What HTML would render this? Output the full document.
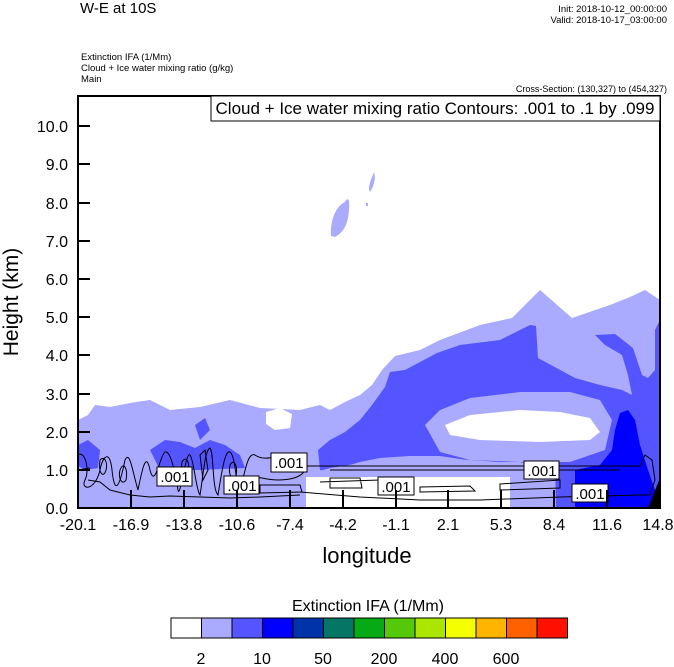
<!DOCTYPE html>
<html><head><meta charset="utf-8"><style>
html,body{margin:0;padding:0;background:#fff;}
svg{display:block;font-family:"Liberation Sans",Arial,sans-serif;}
</style></head><body>
<svg width="674" height="667" viewBox="0 0 674 667" xmlns="http://www.w3.org/2000/svg">
<rect width="674" height="667" fill="#fff"/>
<text x="80" y="13" font-size="15">W-E at 10S</text>
<text x="667" y="12" font-size="9.5" text-anchor="end">Init: 2018-10-12_00:00:00</text>
<text x="667" y="23" font-size="9.5" text-anchor="end">Valid: 2018-10-17_03:00:00</text>
<text x="81" y="60" font-size="9.5">Extinction IFA   (1/Mm)</text>
<text x="81" y="71" font-size="9.5">Cloud + Ice water mixing ratio   (g/kg)</text>
<text x="81" y="82" font-size="9.5">Main</text>
<text x="667" y="92" font-size="9" text-anchor="end">Cross-Section: (130,327) to (454,327)</text>

<g>
<!-- light region -->
<polygon fill="#aaaaff" points="78,420 88,415 95,405 110,407 130,403 150,400 170,410 200,407 230,400 260,408 300,410 320,405 330,410 345,402 360,395 372,385 382,370 395,356 420,350 440,340 480,325 512,318 540,290 572,318 610,305 630,297 645,290 660,300 660,508 78,508"/>
<polygon fill="#fff" points="266,412 280,408 292,414 290,428 275,430 266,424"/>
<!-- medium -->
<polygon fill="#5555ff" points="385,387 390,372 405,370 437,353 460,345 500,340 530,325 536,326 538,358 575,378 600,385 622,390 632,395 628,375 622,355 605,345 595,335 615,334 633,348 642,375 648,378 655,370 655,330 660,320 660,508 560,508 555,470 520,462 480,462 440,456 410,456 380,458 360,462 340,468 330,472 320,470 318,450 330,440 345,432 360,420 372,405"/>
<!-- light band around white pocket -->
<polygon fill="#aaaaff" points="425,425 440,410 470,398 520,392 570,392 600,400 612,420 605,450 570,462 520,462 470,460 440,452"/>
<polygon fill="#fff" points="445,425 470,415 520,410 560,412 590,418 600,432 590,440 540,442 480,440 450,435"/>
<!-- light below medium -->
<polygon fill="#aaaaff" points="306,475 330,468 380,460 440,458 500,462 510,470 510,478 306,478"/>
<!-- bottom white -->
<polygon fill="#fff" points="306,477 510,477 510,508 306,508"/>
<!-- medium at bottom right -->
<polygon fill="#5555ff" points="555,462 580,465 580,508 556,508"/>
<!-- blue -->
<polygon fill="#0000ff" points="575,470 600,465 612,450 615,430 620,413 628,410 635,420 640,445 648,470 655,490 656,508 575,508"/>
<polygon fill="#000" points="648,508 660,478 660,508"/>
<!-- left medium blobs -->
<polygon fill="#5555ff" points="78,445 88,440 100,450 98,468 85,470 78,466"/>
<polygon fill="#5555ff" points="150,450 165,440 180,442 195,448 210,440 225,445 240,455 245,468 200,470 160,470"/>
<polygon fill="#5555ff" points="195,425 205,418 210,430 200,440"/>
<!-- upper blobs -->
<path fill="#aaaaff" d="M331,236 C330,220 336,206 345,202 C348,196 350,200 349,210 C348,224 344,232 335,237 Z"/>
<path fill="#aaaaff" d="M369,190 C369,182 372,178 374,172 C376,178 374,186 370,192 Z"/>
<rect x="366" y="203" width="2" height="3" fill="#aaaaff"/>
</g>

<!-- contours -->
<g fill="none" stroke="#000" stroke-width="1">
<path d="M300,466 L640,466 L645,455 L652,460 L655,480 L650,495 L640,495 L560,497 L480,500 L420,500 L360,497 L300,492"/>
<path d="M330,470 L620,470"/>
<path d="M320,482 L380,480 M420,487 L470,486 L475,491 L420,492 Z M500,484 L560,480 L560,488 L500,490 Z M330,478 L360,478 L362,488 L330,488 Z M385,477 L410,477 L412,486 L385,487 Z"/>
<path d="M78,455 C85,450 90,470 85,480 C80,490 95,492 100,470 C103,455 110,450 112,470 C114,490 118,495 125,460 C130,450 132,470 138,490 C142,470 146,450 150,470 C155,490 160,455 165,452 C170,450 175,470 178,490 C180,500 186,450 190,455 C194,460 196,490 200,495 C204,470 205,450 210,448 C214,452 212,490 218,495 C222,470 225,450 230,452 C236,456 236,490 240,492 C245,470 248,452 255,455 C262,460 270,458 280,456 C290,455 300,460 305,470 C300,480 280,482 262,478 C255,476 250,488 245,490"/>
<path d="M100,460 C104,455 108,462 106,470 C104,478 98,475 100,460 Z M120,470 C124,460 128,470 126,480 C122,486 118,478 120,470 Z M182,462 C186,455 190,462 188,472 C186,480 180,476 182,462 Z M200,455 L205,450 L208,470 L203,480 Z M230,465 C234,458 238,466 236,476 C232,482 228,474 230,465 Z M260,485 L300,485 L302,492 L260,493 Z"/>
<path d="M78,470 L90,468 M88,480 L100,482 L110,490 L130,495 L150,497 L170,496 L200,497 L230,498 L260,497 L300,495"/>
</g>
<g font-size="15" text-anchor="middle">
<rect x="157" y="467" width="35" height="19" fill="#fff" stroke="#000"/><text x="175" y="482">.001</text>
<rect x="224" y="476" width="35" height="18" fill="#fff" stroke="#000"/><text x="242" y="491">.001</text>
<rect x="271" y="453" width="36" height="19" fill="#fff" stroke="#000"/><text x="289" y="468">.001</text>
<rect x="378" y="477" width="36" height="18" fill="#fff" stroke="#000"/><text x="396" y="492">.001</text>
<rect x="524" y="461" width="35" height="18" fill="#fff" stroke="#000"/><text x="542" y="476">.001</text>
<rect x="572" y="484" width="36" height="18" fill="#fff" stroke="#000"/><text x="590" y="499">.001</text>
</g>

<!-- axes frame -->
<rect x="78" y="96" width="582" height="412" fill="none" stroke="#000" stroke-width="2"/>
<rect x="211" y="96" width="449" height="25" fill="#fff" stroke="#000" stroke-width="1"/>
<text x="435" y="114" font-size="17" text-anchor="middle">Cloud + Ice water mixing ratio Contours: .001 to .1 by .099</text>

<g stroke="#000" stroke-width="2">
<line x1="78" y1="508" x2="90" y2="508"/><line x1="78" y1="470" x2="90" y2="470"/><line x1="78" y1="432" x2="90" y2="432"/>
<line x1="78" y1="394" x2="90" y2="394"/><line x1="78" y1="355" x2="90" y2="355"/><line x1="78" y1="317" x2="90" y2="317"/>
<line x1="78" y1="279" x2="90" y2="279"/><line x1="78" y1="241" x2="90" y2="241"/><line x1="78" y1="203" x2="90" y2="203"/>
<line x1="78" y1="164" x2="90" y2="164"/><line x1="78" y1="126" x2="90" y2="126"/>
<line x1="131" y1="508" x2="131" y2="490"/><line x1="184" y1="508" x2="184" y2="490"/><line x1="237" y1="508" x2="237" y2="490"/>
<line x1="290" y1="508" x2="290" y2="490"/><line x1="343" y1="508" x2="343" y2="490"/><line x1="396" y1="508" x2="396" y2="490"/>
<line x1="448" y1="508" x2="448" y2="490"/><line x1="501" y1="508" x2="501" y2="490"/><line x1="554" y1="508" x2="554" y2="490"/>
<line x1="607" y1="508" x2="607" y2="490"/>
</g>
<g font-size="16" text-anchor="end">
<text x="68" y="514">0.0</text><text x="68" y="476">1.0</text><text x="68" y="438">2.0</text><text x="68" y="400">3.0</text>
<text x="68" y="361">4.0</text><text x="68" y="323">5.0</text><text x="68" y="285">6.0</text><text x="68" y="247">7.0</text>
<text x="68" y="209">8.0</text><text x="68" y="170">9.0</text><text x="68" y="132">10.0</text>
</g>
<g font-size="16" text-anchor="middle">
<text x="78" y="530">-20.1</text><text x="131" y="530">-16.9</text><text x="184" y="530">-13.8</text><text x="237" y="530">-10.6</text>
<text x="290" y="530">-7.4</text><text x="343" y="530">-4.2</text><text x="396" y="530">-1.1</text><text x="448" y="530">2.1</text>
<text x="501" y="530">5.3</text><text x="554" y="530">8.4</text><text x="607" y="530">11.6</text><text x="658" y="530">14.8</text>
</g>
<text x="367" y="563" font-size="22" text-anchor="middle">longitude</text>
<text transform="translate(18,302) rotate(-90)" font-size="21" text-anchor="middle">Height (km)</text>

<!-- colorbar -->
<text x="368" y="611" font-size="16" text-anchor="middle">Extinction IFA  (1/Mm)</text>
<g stroke="#000" stroke-width="1">
<rect x="171" y="618" width="30.5" height="20" fill="#ffffff"/>
<rect x="201.5" y="618" width="30.5" height="20" fill="#aaaaff"/>
<rect x="232" y="618" width="30.5" height="20" fill="#5555ff"/>
<rect x="262.5" y="618" width="30.5" height="20" fill="#0000ff"/>
<rect x="293" y="618" width="30.5" height="20" fill="#0033aa"/>
<rect x="323.5" y="618" width="30.5" height="20" fill="#057665"/>
<rect x="354" y="618" width="30.5" height="20" fill="#05aa15"/>
<rect x="384.5" y="618" width="30.5" height="20" fill="#55c80a"/>
<rect x="415" y="618" width="30.5" height="20" fill="#aae600"/>
<rect x="445.5" y="618" width="30.5" height="20" fill="#f5ff00"/>
<rect x="476" y="618" width="30.5" height="20" fill="#ffb400"/>
<rect x="506.5" y="618" width="30.5" height="20" fill="#ff6000"/>
<rect x="537" y="618" width="30.5" height="20" fill="#ff1000"/>
</g>
<g font-size="16" text-anchor="middle">
<text x="201" y="664">2</text><text x="262" y="664">10</text><text x="323" y="664">50</text>
<text x="384" y="664">200</text><text x="445" y="664">400</text><text x="506" y="664">600</text>
</g>
</svg>
</body></html>
